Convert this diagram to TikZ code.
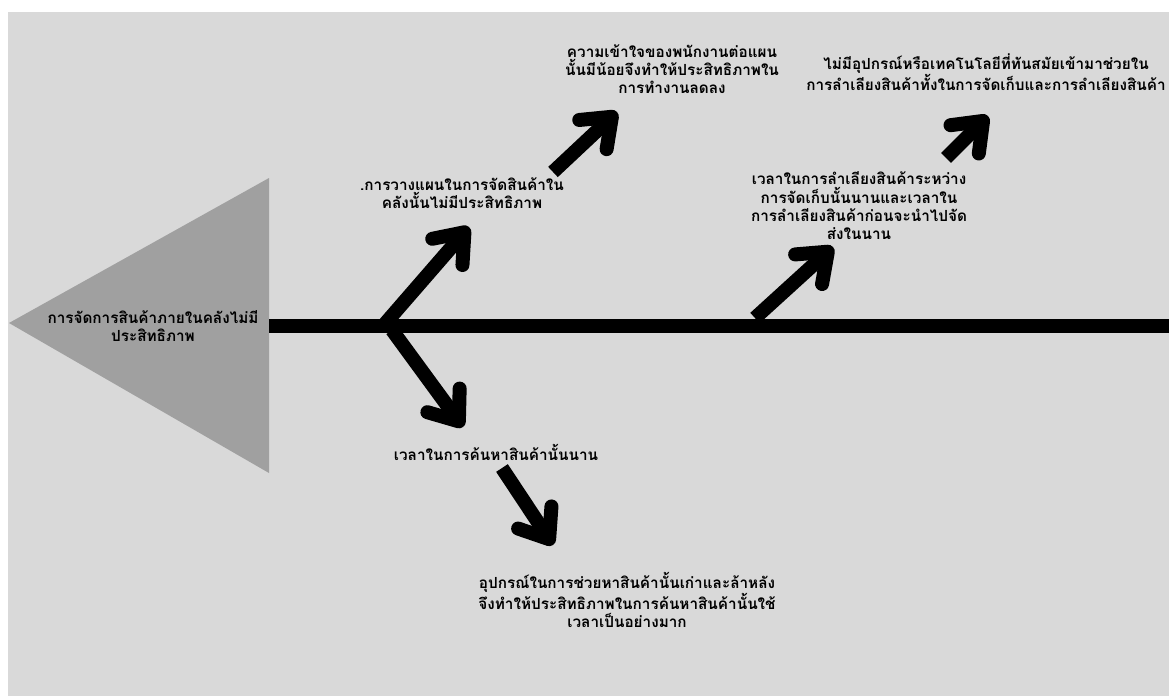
\documentclass[tikz,border=0pt]{standalone}
\usepackage{fontspec}
\newfontfamily\thaifont[Script=Thai]{Loma}
\usetikzlibrary{arrows.meta}
\definecolor{bggray}{HTML}{D9D9D9}
\definecolor{headgray}{HTML}{A0A0A0}
\tikzstyle{cause}=[align=center,inner sep=0pt,font=\thaifont\bfseries\fontsize{15.3}{18.3}\selectfont]
\tikzstyle{spine}=[draw,line width=14pt]
\tikzstyle{bone}=[draw,line width=14pt,-{Straight Barb[length=26pt,width=40pt,round]}]

\begin{document}
\begin{tikzpicture}[x=1pt,y=-1pt]

    \useasboundingbox (0,0) rectangle (1169,696);
    \fill[white] (0,0) rectangle (1169,696);
    \fill[bggray] (8,12) rectangle (1169,696);

    % head of the fish
    \fill[headgray] (9,323) -- (269,178) -- (269,473) -- cycle;
    \node[cause] (head) at (153,326) {การจัดการสินค้าภายในคลังไม่มี\\ประสิทธิภาพ};

    \coordinate (s0) at (269,326);
    \coordinate (s1) at (1180,326);
    \path[spine] (s0) -- (s1);

    % bones
    \foreach \name/\x/\y in {t1/383/326, h1/469/227, t2/392/330, h2/463/427, t3/553/172, h3/617/112,
                             t4/755/318, h4/833/247, t5/946/158, h5/988/116, t6/502/468, h6/553/545}
        \coordinate (\name) at (\x,\y);

    \foreach \source/ \dest in {t1/h1, t2/h2, t3/h3, t4/h4, t5/h5, t6/h6}
        \path[bone] (\source) -- (\dest);

    % causes
    \foreach \name/\x/\y/\text in {c1/672/69/{ความเข้าใจของพนักงานต่อแผน\\นั้นมีน้อยจึงทำให้ประสิทธิภาพใน\\การทำงานลดลง},
                                   c2/986/72/{ไม่มีอุปกรณ์หรือเทคโนโลยีที่ทันสมัยเข้ามาช่วยใน\\การลำเลียงสินค้าทั้งในการจัดเก็บและการลำเลียงสินค้า},
                                   c3/462/193/{.การวางแผนในการจัดสินค้าใน\\คลังนั้นไม่มีประสิทธิภาพ},
                                   c4/859/206/{เวลาในการลำเลียงสินค้าระหว่าง\\การจัดเก็บนั้นนานและเวลาใน\\การลำเลียงสินค้าก่อนจะนำไปจัด\\ส่งในนาน},
                                   c5/496/452/{เวลาในการค้นหาสินค้านั้นนาน},
                                   c6/627/600/{อุปกรณ์ในการช่วยหาสินค้านั้นเก่าและล้าหลัง\\จึงทำให้ประสิทธิภาพในการค้นหาสินค้านั้นใช้\\เวลาเป็นอย่างมาก}}
        \node[cause] (\name) at (\x,\y) {\text};

\end{tikzpicture}
\end{document}
